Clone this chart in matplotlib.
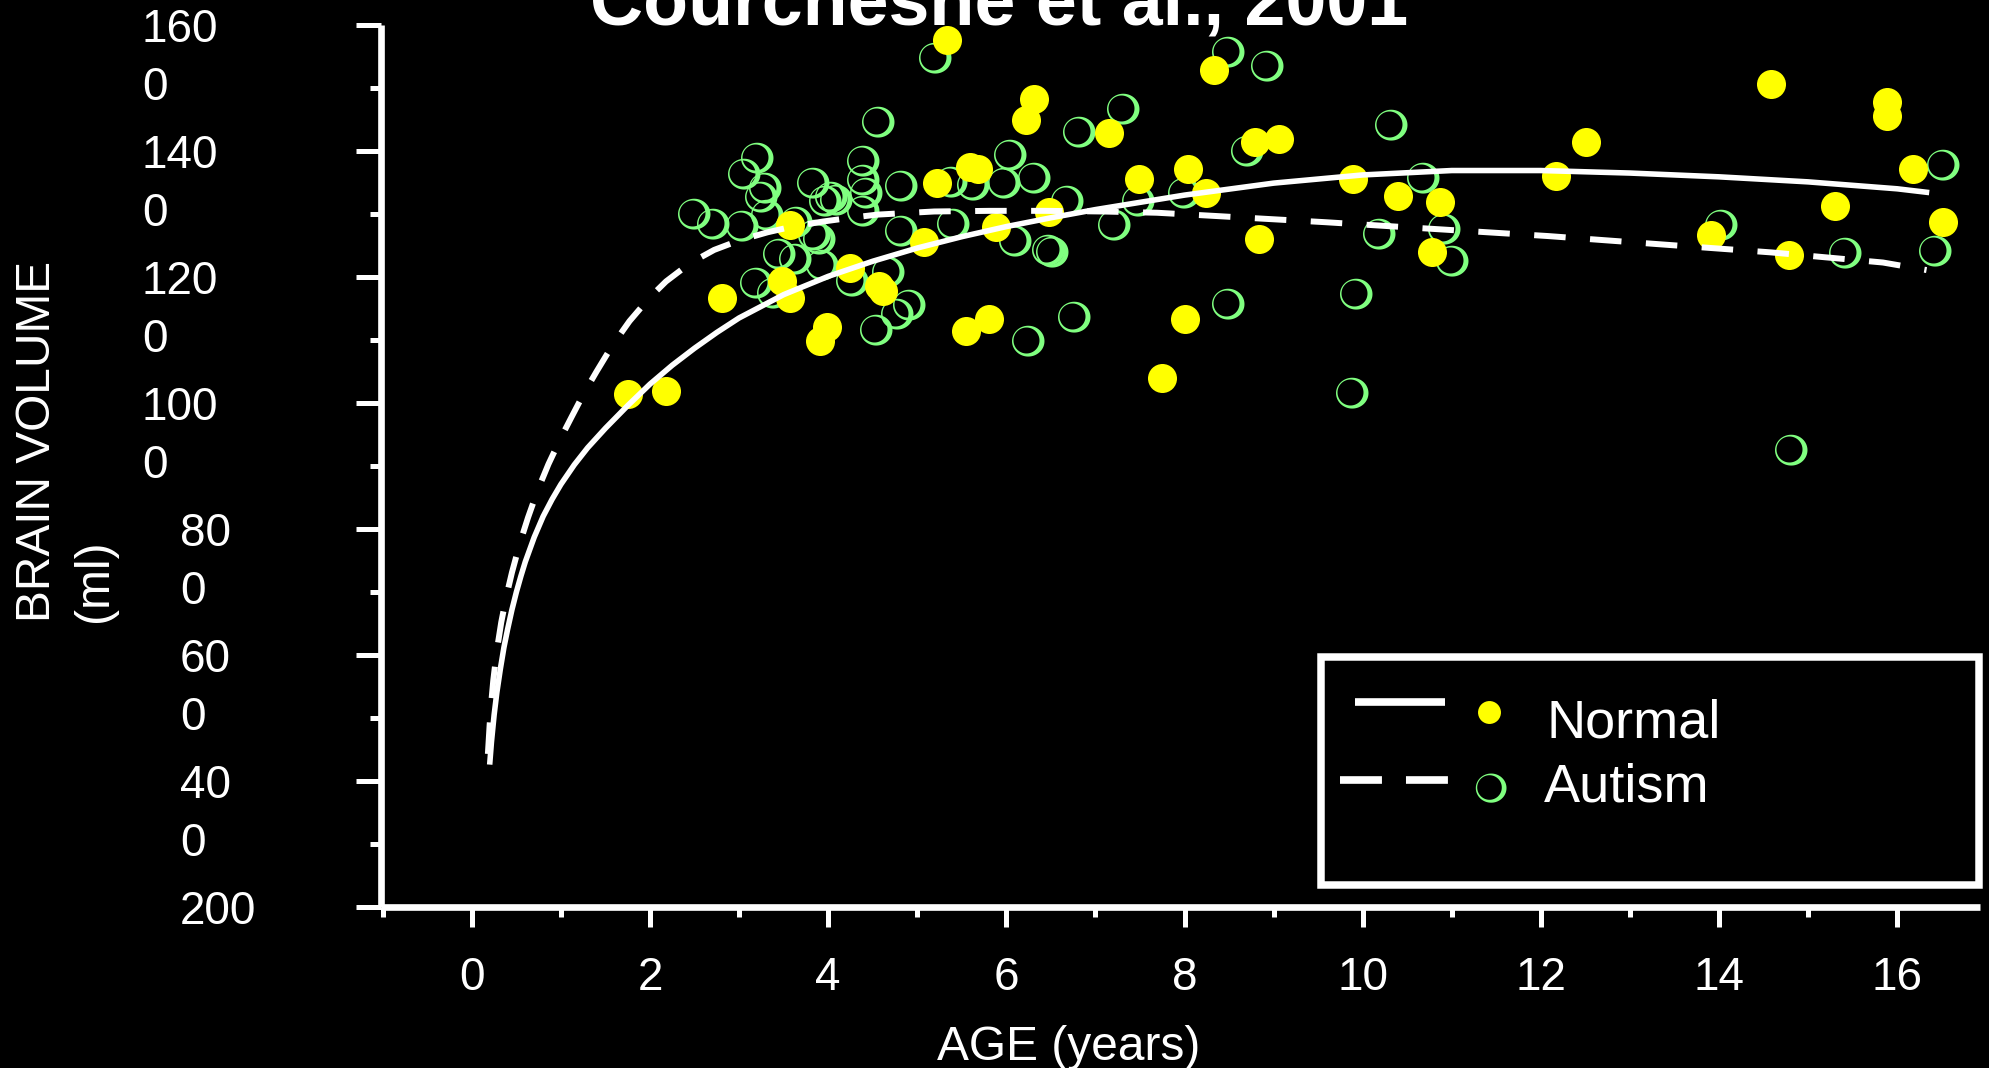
import numpy as np
import matplotlib
matplotlib.use("Agg")
import matplotlib.pyplot as plt
from matplotlib.path import Path
from matplotlib.markers import MarkerStyle
from matplotlib.patches import Rectangle
from matplotlib.lines import Line2D
import matplotlib.transforms as mtransforms

plt.rcParams['font.family'] = ['Liberation Sans', 'DejaVu Sans']

# ---------------- data ----------------
title = "Courchesne et al., 2001"
x_label = "AGE (years)"
y_label = "BRAIN VOLUME\n(ml)"
series_names = ["Normal", "Autism"]

normal_age = [1.75, 2.18, 2.81, 3.48, 3.57, 3.57, 3.91, 3.99, 4.24, 4.57,
              4.62, 5.08, 5.22, 5.33, 5.55, 5.59, 5.68, 5.81, 5.88, 6.22,
              6.31, 6.48, 7.15, 7.49, 7.75, 8.00, 8.04, 8.24, 8.33, 8.79,
              8.84, 9.06, 9.89, 10.40, 10.78, 10.87, 12.17, 12.51, 13.91, 14.58,
              14.79, 15.30, 15.89, 15.89, 16.18, 16.52]
normal_vol = [1014, 1019, 1166, 1194, 1166, 1283, 1098, 1120, 1214, 1185,
              1178, 1256, 1350, 1576, 1114, 1375, 1371, 1134, 1280, 1449,
              1482, 1303, 1429, 1356, 1040, 1134, 1371, 1334, 1529, 1414,
              1260, 1419, 1356, 1329, 1240, 1319, 1361, 1414, 1267, 1507,
              1235, 1313, 1478, 1455, 1371, 1287]

autism_age = [2.47, 2.69, 3.01, 3.03, 3.18, 3.27, 3.22, 3.29, 3.17, 3.36,
              3.42, 3.61, 3.62, 3.81, 3.94, 3.82, 3.88, 3.91, 4.01, 4.07,
              4.37, 4.37, 4.40, 4.37, 4.24, 4.65, 4.79, 4.79, 4.88, 4.75,
              4.51, 4.54, 5.18, 5.38, 5.36, 5.60, 5.95, 6.02, 6.29, 6.66,
              6.07, 6.44, 6.49, 6.74, 6.22, 6.79, 7.29, 7.19, 7.46, 7.97,
              8.47, 8.90, 8.68, 8.47, 10.29, 10.66, 10.16, 10.89, 10.98, 9.90,
              9.86, 14.00, 15.39, 16.40, 16.49, 14.79]
autism_vol = [1301, 1285, 1283, 1365, 1391, 1343, 1328, 1300, 1192, 1176,
              1238, 1230, 1289, 1351, 1323, 1269, 1262, 1220, 1329, 1324,
              1385, 1355, 1335, 1306, 1196, 1210, 1346, 1275, 1157, 1143,
              1117, 1447, 1549, 1285, 1352, 1347, 1351, 1395, 1359, 1322,
              1259, 1244, 1242, 1138, 1100, 1431, 1468, 1284, 1323, 1335,
              1558, 1537, 1402, 1159, 1443, 1358, 1270, 1278, 1227, 1174,
              1018, 1284, 1239, 1243, 1379, 927]

normal_fit_age = [0.20, 0.22, 0.25, 0.28, 0.32, 0.36, 0.40, 0.45, 0.50, 0.55,
                  0.60, 0.70, 0.80, 0.90, 1.00, 1.15, 1.30, 1.50, 1.75, 2.00,
                  2.25, 2.50, 2.75, 3.00, 3.50, 4.00, 4.50, 5.00, 5.50, 6.00,
                  6.50, 7.00, 8.00, 9.00, 10.00, 11.00, 12.00, 13.00, 14.00,
                  15.00, 16.00, 16.36]
normal_fit_vol = [426, 462, 505, 540, 578, 612, 640, 672, 700, 725,
                  748, 787, 820, 847, 871, 902, 929, 960, 996, 1030,
                  1060, 1087, 1112, 1135, 1172, 1201, 1225, 1246, 1264, 1280,
                  1294, 1307, 1330, 1349, 1362, 1369, 1369, 1365, 1359,
                  1351, 1340, 1334]

autism_fit_age = [0.18, 0.20, 0.22, 0.24, 0.28, 0.33, 0.39, 0.45, 0.54, 0.63,
                  0.74, 0.86, 1.00, 1.12, 1.26, 1.40, 1.58, 1.77, 2.00, 2.18,
                  2.45, 2.72, 3.00, 3.32, 3.60, 3.94, 4.25, 4.55, 5.19, 5.81,
                  6.44, 7.08, 7.69, 8.33, 8.95, 9.58, 10.83, 12.08, 13.33,
                  14.59, 15.84, 16.33]
autism_fit_vol = [443, 490, 528, 559, 607, 652, 695, 731, 778, 818,
                  862, 903, 945, 978, 1016, 1050, 1092, 1130, 1168, 1193,
                  1222, 1243, 1258, 1271, 1280, 1288, 1294, 1299, 1304, 1305,
                  1305, 1304, 1302, 1297, 1292, 1287, 1276, 1265, 1252,
                  1239, 1223, 1211]

x_ticks = [0, 2, 4, 6, 8, 10, 12, 14, 16]
x_tick_labels = ["0", "2", "4", "6", "8", "10", "12", "14", "16"]
x_minor_ticks = [-1, 1, 3, 5, 7, 9, 11, 13, 15]
y_ticks = [200, 400, 600, 800, 1000, 1200, 1400, 1600]
y_tick_labels = ["200", "40\n0", "60\n0", "80\n0", "100\n0", "120\n0", "140\n0", "160\n0"]
y_minor_ticks = [300, 500, 700, 900, 1100, 1300, 1500]

# ---------------- style ----------------
W, H = 1990, 1068
WHITE = "white"
YELLOW = "#FFFF00"
GREEN = "#80FF80"

fig = plt.figure(figsize=(W / 100, H / 100), dpi=100, facecolor="black")
ax = fig.add_axes([381 / W, 1 - 907 / H, (1980 - 381) / W, (907 - 25) / H])
ax.set_facecolor("black")
ax.set_xlim(-1.02, 16.93)
ax.set_ylim(200, 1600)


def ellipse(cx, cy, rx, ry, n=90, reverse=False):
    t = np.linspace(0, 2 * np.pi, n, endpoint=False)
    if reverse:
        t = t[::-1]
    return np.column_stack([cx + rx * np.cos(t), cy + ry * np.sin(t)])


n = 90
outer = ellipse(0.108, -0.04, 1.0, 0.95, n)
inner = ellipse(0.0, 0.0, 0.8, 0.8, n, reverse=True)
verts = np.vstack([outer, outer[:1], inner, inner[:1]])
codes = ([Path.MOVETO] + [Path.LINETO] * (n - 1) + [Path.CLOSEPOLY]) * 2
ring_marker = MarkerStyle(Path(verts, codes))

# scatter points
ax.plot(autism_age, autism_vol, ls="none", marker=ring_marker, ms=25.9,
        mfc=GREEN, mec="none", mew=0, zorder=2, clip_on=False)
ax.plot(normal_age, normal_vol, ls="none", marker="o", ms=20.9,
        mfc=YELLOW, mec="none", mew=0, zorder=3, clip_on=False)

# fitted curves
ax.plot(normal_fit_age, normal_fit_vol, color=WHITE, lw=4.0,
        solid_capstyle="butt", solid_joinstyle="round", zorder=4)
lw_d = 4.3
ax.plot(autism_fit_age, autism_fit_vol, color=WHITE, lw=lw_d,
        ls=(0, (22.7 / lw_d, 17.6 / lw_d)), dash_capstyle="butt",
        dash_joinstyle="round", zorder=4)

# spines & ticks
for s in ["top", "right"]:
    ax.spines[s].set_visible(False)
for s in ["left", "bottom"]:
    ax.spines[s].set_color(WHITE)
    ax.spines[s].set_linewidth(4.8)
    ax.spines[s].set_capstyle("butt")

ax.set_xticks(x_ticks)
ax.set_xticklabels(x_tick_labels)
ax.set_xticks(x_minor_ticks, minor=True)
ax.set_yticks(y_ticks)
ax.set_yticks(y_minor_ticks, minor=True)
ax.tick_params(axis="x", which="major", direction="out", length=14.4, width=3.6,
               color=WHITE, labelcolor=WHITE, labelsize=33, pad=21)
ax.tick_params(axis="x", which="minor", direction="out", length=7.2, width=3.6,
               color=WHITE)
ax.tick_params(axis="y", which="major", direction="out", length=18, width=3.6,
               color=WHITE, labelleft=False)
ax.tick_params(axis="y", which="minor", direction="out", length=8, width=3.6,
               color=WHITE)

# y tick labels (wrapped as in the original)
base = mtransforms.blended_transform_factory(fig.transFigure, ax.transData)
for v, lab in zip(y_ticks, y_tick_labels):
    parts = lab.split("\n")
    xpx = 142 if v >= 1000 else 180
    for i, part in enumerate(parts):
        tr = mtransforms.offset_copy(base, fig=fig, x=0, y=-(17.5 + 58 * i), units="dots")
        ax.text(xpx / W, v, part, transform=tr, ha="left", va="baseline",
                fontsize=33, color=WHITE, clip_on=False)

# axis labels and title
fig.text(999 / W, 1 - 25 / H, title, ha="center", va="baseline", fontsize=53,
         fontweight="bold", color=WHITE)
fig.text(1068.6 / W, 1 - 1060 / H, x_label, ha="center", va="baseline",
         fontsize=34.5, color=WHITE)
ylines = y_label.split("\n")
for xc, line in zip([38, 95], ylines):
    fig.text(xc / W, 1 - 622 / H, line, rotation=90, ha="center", va="bottom",
             fontsize=34.5, color=WHITE)

# legend (drawn as in the original)
fig.add_artist(Rectangle((1320.5 / W, 1 - 884.5 / H), (1978.5 - 1320.5) / W,
                         (884.5 - 657) / H, transform=fig.transFigure, fill=False,
                         ec=WHITE, lw=5.4, joinstyle="miter"))
fig.add_artist(Line2D([1355 / W, 1445 / W], [1 - 702 / H] * 2, transform=fig.transFigure,
                      color=WHITE, lw=5.5, solid_capstyle="butt"))
fig.add_artist(Line2D([1489 / W], [1 - 712 / H], transform=fig.transFigure, ls="none",
                      marker="o", ms=16.5, mfc=YELLOW, mec="none"))
fig.text(1547 / W, 1 - 738 / H, series_names[0], ha="left", va="baseline",
         fontsize=39, color=WHITE)
fig.add_artist(Line2D([1340 / W, 1448 / W], [1 - 780 / H] * 2, transform=fig.transFigure,
                      color=WHITE, lw=5.5, ls=(0, (30.2 / 5.5, 17.3 / 5.5)),
                      dash_capstyle="butt"))
fig.add_artist(Line2D([1489 / W], [1 - 787 / H], transform=fig.transFigure, ls="none",
                      marker=ring_marker, ms=24.5, mfc=GREEN, mec="none", mew=0))
fig.text(1544 / W, 1 - 802 / H, series_names[1], ha="left", va="baseline",
         fontsize=39, color=WHITE)

fig.savefig("out.png", dpi=100, facecolor="black")
